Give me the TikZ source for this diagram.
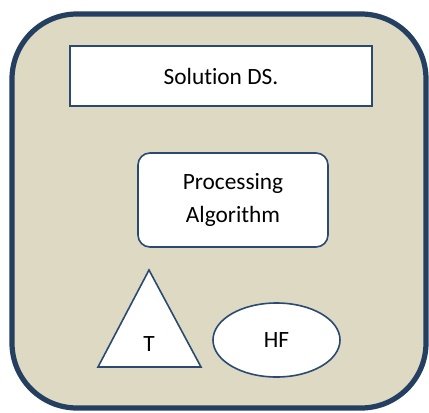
\documentclass[tikz,border=0pt]{standalone}
\usepackage{fontspec}
\setmainfont{Carlito}[Ligatures=NoCommon]
\usetikzlibrary{shapes.geometric}

\definecolor{panelfill}{HTML}{DDD9C3}
\definecolor{paneledge}{HTML}{243F60}
\definecolor{partedge}{HTML}{2A4A72}

\begin{document}
\begin{tikzpicture}[x=0.75pt,y=-0.75pt]
        \tikzstyle{every node}=[font=\fontsize{17.5}{24.5}\selectfont, text=black]
        \tikzstyle{part}=[draw=partedge, fill=white, line width=1.2pt, inner sep=0pt]
        \useasboundingbox (0,0) rectangle (429,412);
        % background panel
        \draw[draw=paneledge, fill=panelfill, line width=3.9pt, rounded corners=48.75pt] (12,14) rectangle (426,408);
        \node[part, rectangle, minimum width=226.5pt, minimum height=45pt] (solution) at (221,76) {Solution DS.};
        \node[part, rectangle, rounded corners=9pt, minimum width=142.5pt, minimum height=70.5pt, align=center] (algo) at (233,200) {Processing\\Algorithm};
        % triangle drawn as a path, label placed low inside it
        \coordinate (tapex) at (149,270);
        \coordinate (tleft) at (98,367);
        \coordinate (tright) at (201,367);
        \draw[part, line join=miter] (tapex) -- (tleft) -- (tright) -- cycle;
        \node (tlabel) at (149,344) {T};
        \node[part, ellipse, minimum width=95.25pt, minimum height=55.5pt] (hf) at (276.5,340) {HF};
    \end{tikzpicture}
\end{document}
